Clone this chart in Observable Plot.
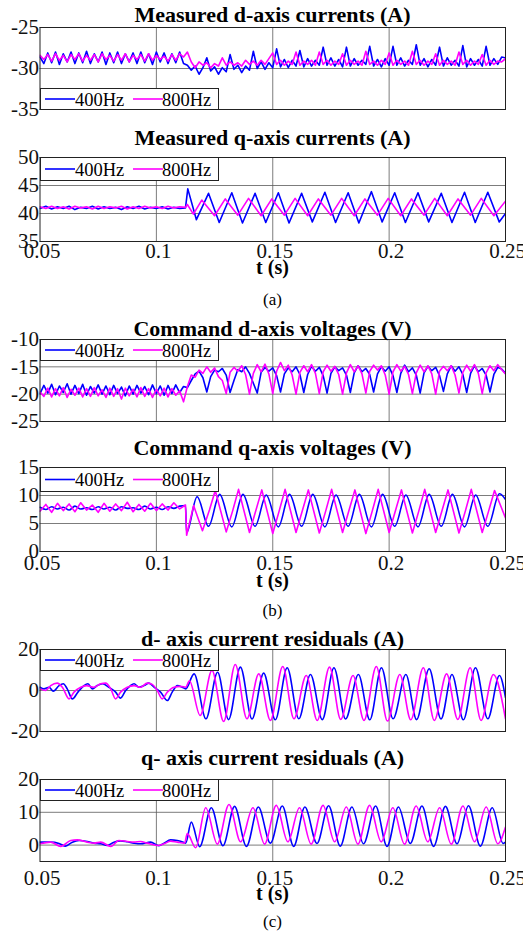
<!DOCTYPE html>
<html><head><meta charset="utf-8">
<script src="https://cdn.jsdelivr.net/npm/d3@7"></script>
<script src="https://cdn.jsdelivr.net/npm/@observablehq/plot@0.6"></script>
<style>
body{margin:0;background:#fff;}
#fig{position:relative;width:523px;height:939px;overflow:hidden;background:#fff;font-family:"Liberation Serif","Times New Roman","DejaVu Serif",serif;color:#000;}
.title{position:absolute;left:40px;width:465px;text-align:center;font-weight:bold;font-size:22px;line-height:22px;white-space:nowrap;}
.xl{position:absolute;left:40px;width:465px;text-align:center;font-weight:bold;font-size:20px;line-height:20px;white-space:nowrap;}
.cap{position:absolute;left:40px;width:465px;text-align:center;font-size:17px;line-height:17px;}
.panel{position:absolute;left:0;}
.legend{position:absolute;left:40px;width:179px;}
</style></head>
<body><div id="fig"></div>
<script>
const FONT = '"Liberation Serif","Times New Roman","DejaVu Serif",serif';
// ---------- shared axis data ----------
const xTicks = [0.05, 0.1, 0.15, 0.2, 0.25];
const xTickLabels = ["0.05", "0.1", "0.15", "0.2", "0.25"];
const xGrid = [0.1, 0.15, 0.2];
const seriesNames = ["400Hz", "800Hz"];
const seriesColors = ["#0000ff", "#ff00ff"];
const panelTitles = [
  "Measured d-axis currents (A)",
  "Measured  q-axis currents (A)",
  "Command d-axis voltages (V)",
  "Command q-axis voltages (V)",
  "d- axis current residuals (A)",
  "q- axis current residuals (A)"
];
const xLabel = "t (s)";
const captions = ["(a)", "(b)", "(c)"];
const yTicks1 = [-35, -30, -25];
const yTicks2 = [35, 40, 45, 50];
const yTicks3 = [-25, -20, -15, -10];
const yTicks4 = [0, 5, 10, 15];
const yTicks5 = [-20, 0, 20];
const yTicks6 = [0, 10, 20];

// ---------- panel 1 & 3: sampled signals (start 0.05 s, 600 samples/s) ----------
const sampleStart = 0.05, sampleStep = 1 / 600;
const dCur400 = [
-28.6,-29.4,-28.1,-29.3,-28.0,-29.5,-28.2,-29.2,-28.0,-29.4,
-28.1,-29.3,-27.9,-29.4,-28.2,-29.2,-28.0,-29.5,-28.1,-29.3,
-28.0,-29.4,-28.2,-29.2,-28.1,-29.4,-28.0,-29.3,-28.2,-29.5,
-28.0,-29.2,-28.1,-29.4,-28.2,-29.3,-28.0,-29.4,
-29.6,-30.2,-29.7,-30.7,-29.9,-28.7,-30.3,-29.8,-30.7,-29.9,
-30.4,-28.3,-30.1,-29.6,-30.5,-29.7,-30.2,-27.9,-30.0,-29.2,
-30.1,-29.3,-29.9,-27.6,-29.8,-28.9,-29.9,-29.0,-29.7,-27.8,
-29.8,-28.8,-29.7,-29.0,-29.6,-27.4,-29.6,-28.7,-29.7,-28.9,
-29.8,-27.4,-29.7,-28.8,-29.6,-29.0,-29.5,-27.3,-29.7,-28.9,
-29.8,-28.8,-29.6,-27.3,-29.6,-28.7,-29.7,-29.0,-29.5,-27.1,
-29.6,-28.8,-29.8,-28.9,-29.6,-27.4,-29.7,-28.7,-29.6,-29.0,
-29.7,-27.2,-29.8,-28.8,-29.6,-28.9,-29.7,-27.3,-29.6,-28.8,
-29.5,-28.6,-28.7];
const dCur800 = [
-28.4,-28.9,-28.3,-29.1,-28.2,-29.0,-28.4,-29.2,-28.3,-28.9,
-28.2,-29.1,-28.4,-29.0,-28.3,-29.2,-28.2,-28.9,-28.4,-29.1,
-28.3,-29.0,-28.2,-29.2,-28.4,-28.9,-28.3,-29.1,-28.2,-29.0,
-28.4,-28.9,-28.5,-29.1,-28.3,-29.0,-28.2,-28.6,
-28.0,-29.2,-29.9,-29.2,-29.6,-29.3,-29.9,-29.4,-29.7,-28.7,
-29.6,-29.2,-29.6,-29.3,-29.7,-29.0,-29.5,-29.1,-29.6,-29.0,
-29.5,-28.8,-28.1,-29.5,-29.0,-29.6,-29.1,-29.5,-28.0,-29.6,
-29.1,-29.5,-29.0,-29.6,-28.0,-29.5,-29.0,-29.6,-29.1,-29.5,
-28.2,-29.6,-29.0,-29.5,-29.1,-29.6,-27.9,-29.5,-29.1,-29.6,
-29.0,-29.5,-28.1,-29.6,-29.0,-29.5,-29.1,-29.6,-27.9,-29.5,
-29.0,-29.6,-29.1,-29.5,-28.2,-29.6,-29.0,-29.5,-29.1,-29.6,
-28.0,-29.5,-29.0,-29.6,-29.1,-29.5,-28.3,-29.6,-29.0,-29.5,
-29.1,-29.2,-28.8];
const dVolt400 = [
-19.9,-18.4,-19.8,-18.2,-20.1,-18.5,-19.7,-18.1,-20.0,-18.4,
-19.9,-18.2,-20.2,-18.6,-19.8,-18.3,-20.0,-18.5,-20.1,-18.4,
-19.9,-18.7,-20.3,-18.5,-20.0,-18.4,-19.8,-18.6,-20.1,-18.3,
-19.9,-18.5,-20.2,-18.4,-19.9,-18.3,-19.7,-18.6,
-18.8,-17.5,-16.3,-15.8,-17.0,-19.6,-16.8,-15.6,-15.9,-15.3,
-16.5,-19.7,-17.5,-15.5,-15.9,-15.0,-16.2,-18.0,-19.8,-16.0,
-15.1,-15.8,-15.2,-16.6,-19.6,-16.3,-15.2,-15.9,-15.0,-16.4,
-19.7,-16.4,-14.9,-15.8,-15.1,-16.6,-19.8,-16.2,-15.0,-15.7,
-15.2,-16.5,-19.7,-16.1,-14.8,-15.9,-15.3,-16.4,-19.6,-16.3,
-15.0,-15.8,-15.0,-16.6,-19.7,-16.2,-14.7,-15.9,-15.2,-16.5,
-19.8,-16.1,-14.9,-15.7,-15.1,-16.6,-19.5,-16.3,-14.8,-15.8,
-15.0,-16.4,-19.7,-16.2,-14.8,-15.9,-15.3,-16.5,-19.6,-16.4,
-15.1,-15.4,-16.2];
const dVolt800 = [
-19.6,-20.4,-18.9,-20.5,-19.0,-20.3,-18.8,-20.6,-19.1,-20.2,
-18.9,-20.5,-19.0,-20.4,-18.8,-20.3,-19.2,-20.6,-18.9,-20.4,
-19.0,-20.9,-18.9,-20.3,-19.1,-20.5,-18.8,-20.4,-19.0,-20.6,
-19.1,-20.3,-18.9,-20.5,-19.0,-20.2,-19.4,-21.4,
-18.6,-16.5,-16.9,-15.6,-16.2,-15.0,-16.0,-15.2,-16.8,-17.5,
-19.9,-16.0,-15.1,-15.8,-14.8,-16.4,-20.0,-16.2,-14.6,-15.9,
-14.5,-16.3,-19.9,-15.8,-14.2,-15.7,-14.7,-16.5,-20.0,-16.0,
-14.8,-15.9,-14.6,-16.2,-19.9,-15.9,-14.7,-15.8,-14.9,-16.4,
-20.0,-16.1,-14.6,-15.9,-14.8,-16.3,-19.8,-15.8,-14.7,-15.6,
-14.8,-16.5,-20.0,-15.9,-14.6,-15.8,-14.9,-16.4,-19.9,-16.1,
-14.7,-15.9,-14.8,-16.3,-20.0,-15.8,-14.9,-15.7,-14.8,-16.5,
-19.8,-16.0,-14.7,-15.8,-14.6,-16.2,-19.9,-16.1,-14.8,-15.7,
-14.6,-15.5,-16.3];

// ---------- panels 2, 4, 5, 6: [t (s), value] points ----------
const qCur400 = [
[0.05,40.9],[0.0525,41.3],[0.055,40.8],[0.0575,41.2],[0.06,40.9],[0.0625,41.3],[0.065,40.7],[0.0675,41.1],
[0.07,40.9],[0.0725,41.3],[0.075,40.8],[0.0775,41.2],[0.08,40.9],[0.0825,41.1],[0.085,40.7],[0.0875,41.2],
[0.09,40.9],[0.0925,41.3],[0.095,40.8],[0.0975,41.1],[0.1,40.9],[0.1025,41.2],[0.105,40.8],[0.1075,41.1],
[0.11,40.9],[0.1125,41.0],[0.1135,44.4],[0.1172,38.9],[0.1224,43.6],[0.127,38.4],[0.1324,43.7],[0.137,38.3],
[0.1424,43.6],[0.147,38.4],[0.1524,43.7],[0.157,38.3],[0.1624,43.6],[0.167,38.5],[0.1724,43.8],[0.177,38.4],
[0.1824,43.7],[0.187,38.3],[0.1924,43.9],[0.197,38.5],[0.2024,43.7],[0.207,38.4],[0.2124,43.7],[0.217,38.5],
[0.2224,43.6],[0.227,38.4],[0.2324,43.8],[0.237,38.4],[0.2424,43.8],[0.2473,38.5],[0.25,40.0]];
const qCur800 = [
[0.05,41.2],[0.0525,40.9],[0.055,41.3],[0.0575,40.9],[0.06,41.2],[0.0625,40.8],[0.065,41.3],[0.0675,41.0],
[0.07,41.2],[0.0725,40.8],[0.075,41.3],[0.0775,40.9],[0.08,41.2],[0.0825,41.0],[0.085,41.3],[0.0875,40.8],
[0.09,41.2],[0.0925,40.9],[0.095,41.3],[0.0975,41.0],[0.1,41.2],[0.1025,40.9],[0.105,41.3],[0.1075,41.0],
[0.11,41.2],[0.1125,41.1],[0.1133,41.6],[0.1159,39.9],[0.1195,42.4],[0.125,39.6],[0.1296,42.6],[0.135,39.7],
[0.1396,42.7],[0.145,39.6],[0.1496,42.6],[0.155,39.7],[0.1596,42.7],[0.165,39.6],[0.1696,42.6],[0.175,39.7],
[0.1796,42.7],[0.185,39.6],[0.1896,42.6],[0.195,39.7],[0.1996,42.7],[0.205,39.6],[0.2096,42.6],[0.215,39.7],
[0.2196,42.7],[0.225,39.6],[0.2296,42.6],[0.235,39.7],[0.2396,42.7],[0.245,39.6],[0.25,42.2]];
const qVolt400 = [
[0.05,7.9],[0.0525,7.5],[0.055,8.0],[0.0575,7.6],[0.06,7.9],[0.0625,7.4],[0.065,8.1],[0.0675,7.6],
[0.07,7.8],[0.0725,7.5],[0.075,8.0],[0.0775,7.6],[0.08,7.9],[0.0825,7.4],[0.085,8.0],[0.0875,7.7],
[0.09,7.8],[0.0925,7.5],[0.095,8.1],[0.0975,7.6],[0.1,7.9],[0.1025,7.5],[0.105,8.0],[0.1075,7.7],
[0.11,8.1],[0.1125,8.2],[0.113,3.4],[0.1175,9.8],[0.1224,4.5],[0.1272,10.2],[0.1324,4.4],[0.1372,10.2],
[0.1424,4.5],[0.1472,10.1],[0.1524,4.4],[0.1572,10.2],[0.1624,4.5],[0.1672,10.2],[0.1724,4.4],[0.1772,10.1],
[0.1824,4.5],[0.1872,10.2],[0.1924,4.4],[0.1972,10.2],[0.2024,4.5],[0.2072,10.1],[0.2124,4.4],[0.2172,10.2],
[0.2224,4.5],[0.2272,10.2],[0.2324,4.4],[0.2372,10.1],[0.2424,4.5],[0.2474,10.3],[0.25,9.3]];
const qVolt800 = [
[0.05,7.2],[0.0525,8.4],[0.055,7.0],[0.0575,8.6],[0.06,7.3],[0.0625,8.5],[0.065,7.1],[0.0675,8.7],
[0.07,7.4],[0.0725,8.3],[0.075,7.0],[0.0775,8.6],[0.08,7.2],[0.0825,8.5],[0.085,7.3],[0.0875,8.8],
[0.09,7.1],[0.0925,8.4],[0.095,7.2],[0.0975,8.6],[0.1,7.3],[0.1025,8.5],[0.105,7.4],[0.1075,8.7],
[0.11,7.6],[0.1125,8.3],[0.113,2.9],[0.116,8.2],[0.1198,3.7],[0.1228,7.4],[0.1253,10.9],[0.13,3.5],
[0.1328,7.3],[0.1353,11.1],[0.14,3.4],[0.1428,7.4],[0.1453,11.0],[0.15,3.2],[0.1528,7.3],[0.1553,11.1],
[0.16,3.4],[0.1628,7.4],[0.1653,11.0],[0.17,3.3],[0.1728,7.3],[0.1753,11.1],[0.18,3.4],[0.1828,7.4],
[0.1853,11.0],[0.19,3.2],[0.1928,7.3],[0.1953,11.1],[0.2,3.4],[0.2028,7.4],[0.2053,11.0],[0.21,3.3],
[0.2128,7.3],[0.2153,11.1],[0.22,3.4],[0.2228,7.4],[0.2253,11.0],[0.23,3.3],[0.2328,7.3],[0.2353,11.1],
[0.24,3.4],[0.2428,7.3],[0.2453,10.9],[0.25,6.0]];
const dRes400 = [
[0.05,1.6],[0.0517,0.8],[0.0539,1.6],[0.0557,-0.3],[0.0582,2.4],[0.06,3.3],[0.0617,0.8],[0.0639,-4.1],
[0.0663,-0.8],[0.0689,2.4],[0.0706,3.3],[0.0725,0.8],[0.0746,2.4],[0.0768,3.3],[0.0796,1.6],[0.0825,-0.8],
[0.0846,-3.7],[0.0868,0.0],[0.0889,2.4],[0.0904,3.3],[0.0925,1.6],[0.0947,2.4],[0.0968,3.6],[0.099,1.6],
[0.1018,-0.8],[0.1047,-4.9],[0.1068,-0.8],[0.109,2.4],[0.1111,1.6],[0.1126,0.8],
[0.1162,8.1],[0.1213,-13.8],[0.1263,8.9],[0.131,-14.2],[0.1361,11.4],[0.1411,-13.9],[0.1461,8.5],[0.1511,-14.3],
[0.1562,11.1],[0.1612,-13.8],[0.1662,7.8],[0.1713,-14.2],[0.1763,11.1],[0.1813,-13.9],[0.1868,7.8],[0.1917,-14.3],
[0.1967,11.1],[0.2017,-13.8],[0.2072,7.8],[0.2118,-14.2],[0.2172,10.6],[0.2223,-13.9],[0.227,7.8],[0.2319,-14.3],
[0.2371,11.1],[0.2424,-13.8],[0.2474,7.3],[0.25,-3.5]];
const dRes800 = [
[0.05,0.8],[0.0524,0.0],[0.0546,2.4],[0.0574,3.6],[0.0596,1.6],[0.0625,-4.1],[0.0646,-0.8],[0.0675,1.6],
[0.07,2.4],[0.0732,1.6],[0.0761,3.3],[0.0782,3.6],[0.0804,0.8],[0.0825,-4.1],[0.0846,-0.8],[0.0875,1.6],
[0.0904,2.4],[0.0932,1.6],[0.0961,3.6],[0.0982,3.0],[0.1004,0.0],[0.1025,-4.1],[0.1047,-0.8],[0.1076,1.6],
[0.1104,2.0],[0.1126,1.6],
[0.1142,4.7],[0.1188,-12.2],[0.1239,9.8],[0.1289,-15.1],[0.1339,12.7],[0.1389,-13.8],[0.144,8.1],[0.149,-14.6],
[0.1543,11.7],[0.1591,-13.8],[0.1644,7.3],[0.1691,-14.6],[0.1744,11.4],[0.1792,-14.1],[0.1845,7.3],[0.1892,-14.6],
[0.1945,11.7],[0.1993,-14.9],[0.2046,7.8],[0.2093,-14.3],[0.2147,11.1],[0.2194,-14.6],[0.2247,8.1],[0.2295,-14.1],
[0.2348,11.1],[0.2395,-14.6],[0.2448,7.8],[0.25,-13.8]];
const qRes400 = [
[0.05,0.9],[0.0546,0.9],[0.0582,0.5],[0.061,-0.3],[0.0639,0.9],[0.0668,1.4],[0.0703,1.1],[0.0732,0.6],
[0.0761,0.4],[0.0789,-0.1],[0.0818,0.9],[0.0846,1.3],[0.0875,1.0],[0.0904,0.6],[0.0932,0.4],[0.0975,0.9],
[0.1011,-0.2],[0.1033,0.6],[0.1061,1.6],[0.109,1.4],[0.1116,0.9],[0.1126,0.6],
[0.115,7.0],[0.1186,-0.5],[0.1236,11.4],[0.1286,-0.2],[0.1336,11.8],[0.1387,-0.4],[0.1438,11.6],[0.149,0.6],
[0.1541,11.9],[0.159,-0.4],[0.1638,11.6],[0.169,0.5],[0.174,12.0],[0.179,-0.3],[0.184,11.6],[0.189,0.4],
[0.1942,11.9],[0.1991,-0.4],[0.204,11.6],[0.2091,0.5],[0.2141,11.9],[0.2191,-0.4],[0.2242,11.8],[0.2292,0.4],
[0.2341,12.0],[0.2392,-0.3],[0.2443,11.4],[0.249,0.5],[0.25,0.9]];
const qRes800 = [
[0.05,0.4],[0.0546,0.9],[0.0589,-0.4],[0.0632,1.4],[0.066,1.6],[0.0703,0.9],[0.0732,0.6],[0.0761,0.9],
[0.0804,-0.4],[0.0839,1.4],[0.0875,1.1],[0.0904,0.9],[0.0932,1.1],[0.0961,0.6],[0.1004,-0.1],[0.1033,0.4],
[0.1061,1.2],[0.109,0.9],[0.1121,0.6],
[0.1133,3.5],[0.1169,-0.8],[0.1212,11.4],[0.1262,0.3],[0.1312,12.4],[0.1362,1.0],[0.1415,11.4],[0.1465,0.3],
[0.1515,12.1],[0.1565,1.0],[0.1615,11.4],[0.1665,0.3],[0.1716,12.1],[0.1766,1.0],[0.1816,11.6],[0.1866,0.3],
[0.1916,12.1],[0.1966,1.0],[0.2016,11.4],[0.2066,0.3],[0.2116,11.9],[0.2166,1.0],[0.2217,11.4],[0.2267,0.3],
[0.2317,11.9],[0.2367,1.0],[0.2417,11.6],[0.2467,0.4],[0.25,5.5]];

// ---------- build ----------
const fig = document.getElementById("fig");
const sampled = vals => vals.map((v, i) => ({t: sampleStart + i * sampleStep, v}));
const pairs = arr => arr.map(([t, v]) => ({t, v}));
const SVGNS = "http://www.w3.org/2000/svg";

function addDiv(cls, text, top) {
  const d = document.createElement("div");
  d.className = cls; d.textContent = text; d.style.top = top + "px";
  fig.appendChild(d);
  return d;
}

function addLegend(top, h) {
  const W = 179;
  const s = document.createElementNS(SVGNS, "svg");
  s.setAttribute("class", "legend");
  s.setAttribute("width", W); s.setAttribute("height", h);
  s.style.top = top + "px";
  const r = document.createElementNS(SVGNS, "rect");
  r.setAttribute("x", 0.5); r.setAttribute("y", 0.5);
  r.setAttribute("width", W - 1); r.setAttribute("height", h - 1);
  r.setAttribute("fill", "#fff"); r.setAttribute("stroke", "#222"); r.setAttribute("stroke-width", 1);
  s.appendChild(r);
  const lx = [5, 93], tx = [35, 122];
  seriesNames.forEach((name, i) => {
    const ln = document.createElementNS(SVGNS, "line");
    ln.setAttribute("x1", lx[i]); ln.setAttribute("x2", lx[i] + 30);
    ln.setAttribute("y1", h / 2); ln.setAttribute("y2", h / 2);
    ln.setAttribute("stroke", seriesColors[i]); ln.setAttribute("stroke-width", 1.6);
    s.appendChild(ln);
    const t = document.createElementNS(SVGNS, "text");
    t.setAttribute("x", tx[i]); t.setAttribute("y", h / 2 + 6.5);
    t.setAttribute("font-family", FONT); t.setAttribute("font-size", 18.5); t.setAttribute("fill", "#000");
    t.textContent = name;
    s.appendChild(t);
  });
  fig.appendChild(s);
}

function addPanel(o) {
  const mt = 10, mb = o.xaxis ? 34 : 10;
  const marks = [
    Plot.gridY(o.yticks, {stroke: "#5a5a5a", strokeOpacity: 1, strokeWidth: 0.8}),
    Plot.gridX(xGrid, {stroke: "#5a5a5a", strokeOpacity: 1, strokeWidth: 0.8}),
    Plot.line(o.s1, {x: "t", y: "v", stroke: seriesColors[0], strokeWidth: 1.6, curve: o.c1 || "linear", clip: true}),
    Plot.line(o.s2, {x: "t", y: "v", stroke: seriesColors[1], strokeWidth: 1.6, curve: o.c2 || "linear", clip: true}),
    Plot.frame({stroke: "#222", strokeWidth: 1}),
    Plot.axisY(o.yticks, {tickSize: 0, tickPadding: 1, label: null, fontSize: 21, fontFamily: FONT, fill: "#111",
                          tickFormat: d => String(d)})
  ];
  if (o.xaxis) marks.push(Plot.axisX(xTicks, {tickSize: 0, tickPadding: o.xpad, label: null, fontSize: 21, fontFamily: FONT,
                                               fill: "#111", dx: 2, tickFormat: (d, i) => xTickLabels[i]}));
  const svg = Plot.plot({
    width: 523, height: o.h + mt + mb,
    marginLeft: 39.5, marginRight: 18, marginTop: mt, marginBottom: mb,
    style: {fontFamily: FONT, background: "transparent", overflow: "visible", color: "#000"},
    x: {domain: [0.05, 0.25], axis: o.xaxis ? undefined : null},
    y: {domain: o.ydom},
    marks
  });
  svg.classList.add("panel");
  svg.style.top = (o.top - mt) + "px";
  fig.appendChild(svg);
}

addPanel({top: 27, h: 82, ydom: [-35, -25], yticks: yTicks1, s1: sampled(dCur400), s2: sampled(dCur800)});
addPanel({top: 157, h: 84, ydom: [35, 50], yticks: yTicks2, s1: pairs(qCur400), s2: pairs(qCur800), xaxis: true, xpad: 1.5});
addPanel({top: 339, h: 82, ydom: [-25, -10], yticks: yTicks3, s1: sampled(dVolt400), s2: sampled(dVolt800)});
addPanel({top: 467, h: 84, ydom: [0, 15], yticks: yTicks4, s1: pairs(qVolt400), s2: pairs(qVolt800), c1: "monotone-x", xaxis: true, xpad: 3.5});
addPanel({top: 649, h: 82, ydom: [-20, 20], yticks: yTicks5, s1: pairs(dRes400), s2: pairs(dRes800), c1: "monotone-x", c2: "monotone-x"});
addPanel({top: 779, h: 82, ydom: [-5, 20], yticks: yTicks6, s1: pairs(qRes400), s2: pairs(qRes800), c1: "monotone-x", c2: "monotone-x", xaxis: true, xpad: 8.5});

addLegend(88, 22);
addLegend(157, 24);
addLegend(339, 22);
addLegend(467, 25);
addLegend(649, 22);
addLegend(779, 22);

const titleTops = [4.3, 127.3, 317.6, 437.3, 627.6, 747.3];
panelTitles.forEach((t, i) => addDiv("title", t, titleTops[i]));
[257.3, 570, 882.5].forEach(top => addDiv("xl", xLabel, top));
[290.8, 601.5, 912.8].forEach((top, i) => addDiv("cap", captions[i], top));
</script>
</body></html>
